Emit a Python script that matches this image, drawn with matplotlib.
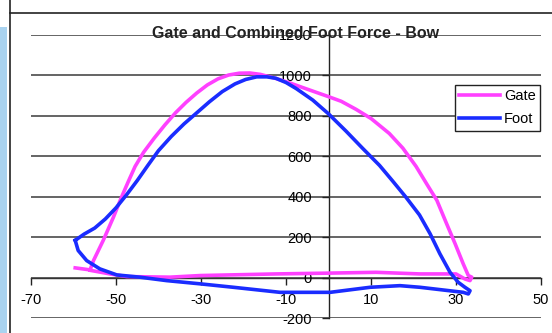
import numpy as np
import matplotlib.pyplot as plt
from matplotlib.lines import Line2D
from matplotlib.patches import Rectangle

plt.rcParams['font.family'] = ['Liberation Sans', 'DejaVu Sans']
plt.rcParams['axes.unicode_minus'] = False

# Gate force loop (x = position, y = force)
gate_x = [-59.6, -56.1, -55.3, -53.0, -50.6, -48.7, -47.0, -45.5, -43.5, -41.0,
          -38.5, -36.0, -33.5, -31.0, -28.5, -26.0, -23.5, -21.0, -18.5, -16.0,
          -12.4, -9.0, -5.0, 0.0, 3.0, 6.5, 10.0, 14.3, 17.5, 20.6,
          23.2, 25.5, 27.8, 29.8, 31.7, 32.9, 33.7, 33.3, 32.1, 30.0,
          21.5, 11.2, 0.0, -12.4, -30.2, -37.3, -47.5, -51.4, -56.1]
gate_y = [48, 38, 84, 184, 299, 398, 480, 550, 620, 690,
          755, 815, 867, 913, 953, 983, 1002, 1011, 1012, 1005,
          985, 962, 932, 895, 872, 832, 787, 713, 640, 550,
          460, 382, 266, 167, 68, 10, 2, -15, -7, 18,
          18, 26, 22, 18, 10, 2, 5, 18, 36]

# Combined foot force loop
foot_x = [-59.6, -57.5, -55.0, -52.5, -50.0, -47.5, -45.0, -42.5, -40.0, -37.0,
          -34.0, -31.0, -28.0, -25.0, -22.0, -19.5, -16.9, -14.5, -12.4, -10.0,
          -7.6, -3.7, 0.0, 4.1, 8.0, 12.0, 15.0, 18.2, 21.4, 23.9,
          26.2, 28.6, 30.5, 32.1, 33.3, 32.9, 31.7, 21.5, 16.8, 9.8,
          0.4, -11.4, -22.4, -30.2, -38.1, -44.4, -49.8, -53.8, -56.9, -58.9,
          -59.6]
foot_y = [184, 215, 245, 290, 345, 410, 480, 555, 628, 698,
          760, 815, 870, 920, 958, 980, 993, 993, 986, 965,
          935, 878, 810, 725, 640, 555, 480, 398, 310, 217,
          118, 26, -23, -48, -65, -81, -73, -48, -40, -48,
          -73, -73, -48, -31, -15, 2, 13, 43, 84, 134,
          184]

x_ticks = [-70, -50, -30, -10, 10, 30, 50]
y_ticks = [-200, 0, 200, 400, 600, 800, 1000, 1200]

fig = plt.figure(figsize=(5.52, 3.33), dpi=100)

# window decorations on the left / top
fig.add_artist(Rectangle((0, 0), 7 / 552, 1 - 27 / 333, transform=fig.transFigure,
                         color='#a9d3f0', lw=0))
fig.add_artist(Line2D([9.5 / 552, 9.5 / 552], [0, 1], transform=fig.transFigure,
                      color='#222222', lw=1.2))
fig.add_artist(Line2D([9.5 / 552, 1], [1 - 13 / 333, 1 - 13 / 333],
                      transform=fig.transFigure, color='#222222', lw=1.2))

ax = fig.add_axes([31 / 552, 15 / 333, 510 / 552, 283 / 333])
ax.set_xlim(-70, 50)
ax.set_ylim(-200, 1200)

ax.plot(gate_x, gate_y, color='#ff40ff', lw=2.6, label='Gate', zorder=3,
        solid_joinstyle='round')
ax.plot(foot_x, foot_y, color='#1a2cff', lw=2.6, label='Foot', zorder=3,
        solid_joinstyle='round')

ax.spines['left'].set_position(('data', 0))
ax.spines['bottom'].set_position(('data', 0))
ax.spines['top'].set_visible(False)
ax.spines['right'].set_visible(False)
for s in ('left', 'bottom'):
    ax.spines[s].set_color('#222222')
    ax.spines[s].set_linewidth(1.0)

ax.set_xticks(x_ticks)
ax.set_yticks(y_ticks)
ax.tick_params(axis='x', direction='out', length=5, width=1, pad=6,
               labelsize=10.5, color='#222222')
ax.tick_params(axis='y', direction='out', length=5, width=1, pad=7,
               labelsize=10.5, color='#222222')
ax.yaxis.grid(True, color='#3a3a3a', lw=1.1)
ax.xaxis.grid(False)
ax.set_axisbelow(False)

fig.text(296 / 552, 1 - 33 / 333, 'Gate and Combined Foot Force - Bow',
         ha='center', va='center', fontsize=11.5, fontweight='bold', color='#222222')

leg = ax.legend(loc='upper right', bbox_to_anchor=(540 / 552, 1 - 85 / 333),
                bbox_transform=fig.transFigure, borderaxespad=0, fancybox=False,
                framealpha=1, edgecolor='#222222', fontsize=10.5, handlelength=2.8,
                handletextpad=0.25, labelspacing=0.6, borderpad=0.3)
leg.get_frame().set_linewidth(1.0)

fig.savefig('out.png', dpi=100)
